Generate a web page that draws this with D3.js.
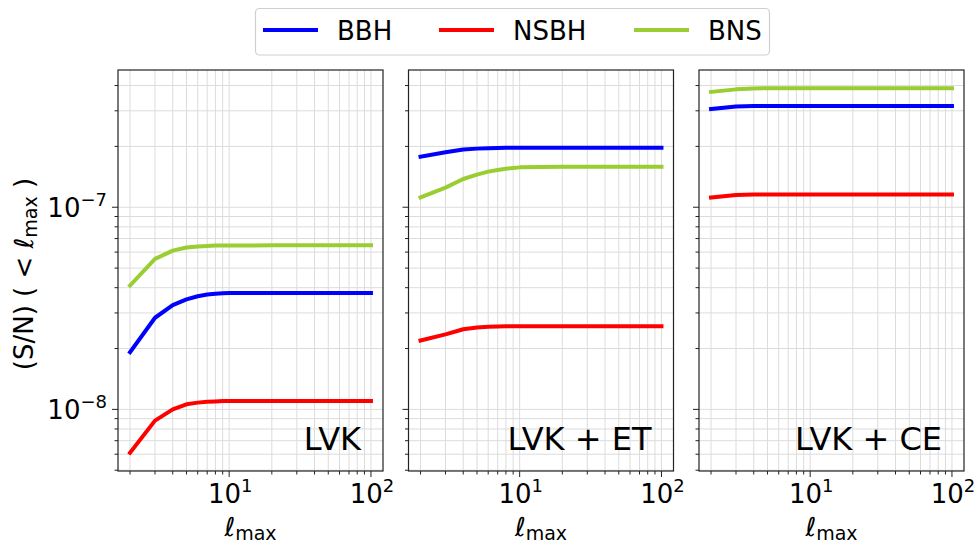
<!DOCTYPE html>
<html>
<head>
<meta charset="utf-8">
<script src="https://cdn.jsdelivr.net/npm/d3@7"></script>
<style>
  html, body { margin: 0; padding: 0; background: #fff; }
  svg { display: block; font-family: "DejaVu Sans", sans-serif; }
</style>
</head>
<body>
<svg id="chart" width="979" height="546"></svg>
<script>
// Multipole cutoff values at which the cumulative S/N was evaluated
const ell = [2, 3, 4, 5, 6, 7, 8, 9, 10, 20, 50, 100];

const populations = ["BBH", "NSBH", "BNS"];
const popColors = ["#0000ff", "#ff0000", "#9acd32"];
const detectors = ["LVK", "LVK + ET", "LVK + CE"];

// Cumulative S/N (< ell_max) for each network and population
const lvkBBH  = [1.92e-8, 2.84e-8, 3.28e-8, 3.50e-8, 3.63e-8, 3.70e-8, 3.73e-8, 3.75e-8, 3.76e-8, 3.77e-8, 3.77e-8, 3.77e-8];
const lvkNSBH = [6.1e-9, 8.8e-9, 1.00e-8, 1.06e-8, 1.08e-8, 1.09e-8, 1.095e-8, 1.10e-8, 1.10e-8, 1.10e-8, 1.10e-8, 1.10e-8];
const lvkBNS  = [4.10e-8, 5.55e-8, 6.10e-8, 6.32e-8, 6.40e-8, 6.44e-8, 6.46e-8, 6.47e-8, 6.47e-8, 6.48e-8, 6.48e-8, 6.48e-8];

const etBBH   = [1.78e-7, 1.87e-7, 1.93e-7, 1.95e-7, 1.96e-7, 1.965e-7, 1.97e-7, 1.97e-7, 1.97e-7, 1.97e-7, 1.97e-7, 1.97e-7];
const etNSBH  = [2.19e-8, 2.35e-8, 2.49e-8, 2.54e-8, 2.56e-8, 2.57e-8, 2.575e-8, 2.58e-8, 2.58e-8, 2.58e-8, 2.58e-8, 2.58e-8];
const etBNS   = [1.12e-7, 1.25e-7, 1.38e-7, 1.45e-7, 1.50e-7, 1.53e-7, 1.55e-7, 1.565e-7, 1.575e-7, 1.585e-7, 1.585e-7, 1.585e-7];

const ceBBH   = [3.06e-7, 3.15e-7, 3.17e-7, 3.17e-7, 3.17e-7, 3.17e-7, 3.17e-7, 3.17e-7, 3.17e-7, 3.17e-7, 3.17e-7, 3.17e-7];
const ceNSBH  = [1.117e-7, 1.15e-7, 1.155e-7, 1.156e-7, 1.156e-7, 1.156e-7, 1.156e-7, 1.156e-7, 1.156e-7, 1.156e-7, 1.156e-7, 1.156e-7];
const ceBNS   = [3.72e-7, 3.83e-7, 3.87e-7, 3.88e-7, 3.88e-7, 3.88e-7, 3.88e-7, 3.88e-7, 3.88e-7, 3.88e-7, 3.88e-7, 3.88e-7];

const panelSeries = [
  [lvkBBH, lvkNSBH, lvkBNS],
  [etBBH, etNSBH, etBNS],
  [ceBBH, ceNSBH, ceBNS]
];

const xMajor = [10, 100];
const yMajorLabels = [{ v: 1e-7, exp: "−7" }, { v: 1e-8, exp: "−8" }];

// ---------- layout ----------
const svg = d3.select("#chart");
const panelLeft = [118, 408.5, 699];
const panelW = 265;
const plotTop = 70, plotBottom = 471;
const axisColor = "#222";
const gridColor = "#dcdcdc";

// log extent with 5% margins in log space
function logExtent(values) {
  const lo = Math.log10(d3.min(values)), hi = Math.log10(d3.max(values));
  const m = (hi - lo) * 0.05;
  return [Math.pow(10, lo - m), Math.pow(10, hi + m)];
}
const allY = panelSeries.flat(2);
const y = d3.scaleLog().domain(logExtent(allY)).range([plotBottom, plotTop]);
const xDomain = logExtent(ell);

// all 1..9 x 10^k ticks inside a log domain
function logTicks(domain) {
  const out = [];
  const k0 = Math.floor(Math.log10(domain[0])) - 1, k1 = Math.ceil(Math.log10(domain[1]));
  for (let k = k0; k <= k1; k++) {
    for (let m = 1; m <= 9; m++) {
      const v = m * Math.pow(10, k);
      if (v >= domain[0] * 0.9999 && v <= domain[1] * 1.0001) out.push({ v, major: m === 1 });
    }
  }
  return out;
}
const yTicks = logTicks(y.domain());
const xTicks = logTicks(xDomain);

const line = d3.line().curve(d3.curveLinear);

detectors.forEach((name, p) => {
  const x0 = panelLeft[p];
  const x = d3.scaleLog().domain(xDomain).range([x0, x0 + panelW]);
  const g = svg.append("g");

  // grid
  g.append("g").selectAll("line").data(xTicks).join("line")
    .attr("x1", d => x(d.v)).attr("x2", d => x(d.v))
    .attr("y1", plotTop).attr("y2", plotBottom)
    .attr("stroke", gridColor).attr("stroke-width", 1);
  g.append("g").selectAll("line").data(yTicks).join("line")
    .attr("x1", x0).attr("x2", x0 + panelW)
    .attr("y1", d => y(d.v)).attr("y2", d => y(d.v))
    .attr("stroke", gridColor).attr("stroke-width", 1);

  // series
  panelSeries[p].forEach((vals, i) => {
    g.append("path")
      .attr("d", line(ell.map((l, j) => [x(l), y(vals[j])])))
      .attr("fill", "none")
      .attr("stroke", popColors[i])
      .attr("stroke-width", 4)
      .attr("stroke-linejoin", "round")
      .attr("stroke-linecap", "square");
  });

  // tick marks
  g.append("g").selectAll("line").data(yTicks).join("line")
    .attr("x1", x0).attr("x2", d => x0 - (d.major ? 6 : 3.5))
    .attr("y1", d => y(d.v)).attr("y2", d => y(d.v))
    .attr("stroke", axisColor).attr("stroke-width", 1);
  g.append("g").selectAll("line").data(xTicks).join("line")
    .attr("x1", d => x(d.v)).attr("x2", d => x(d.v))
    .attr("y1", plotBottom).attr("y2", d => plotBottom + (d.major ? 6 : 3.5))
    .attr("stroke", axisColor).attr("stroke-width", 1);

  // frame
  g.append("rect")
    .attr("x", x0).attr("y", plotTop).attr("width", panelW).attr("height", plotBottom - plotTop)
    .attr("fill", "none").attr("stroke", axisColor).attr("stroke-width", 1.2);

  // x tick labels
  xMajor.forEach(v => {
    const t = g.append("text")
      .attr("x", x(v) + 1).attr("y", 503)
      .attr("text-anchor", "middle")
      .attr("font-size", 26).attr("fill", "#000");
    t.append("tspan").text("10");
    t.append("tspan").attr("font-size", 18).attr("dy", -11).text(String(Math.round(Math.log10(v))));
  });

  // x axis label
  const xl = g.append("text")
    .attr("x", x0 + panelW / 2).attr("y", 536)
    .attr("text-anchor", "middle").attr("font-size", 26).attr("fill", "#000");
  xl.append("tspan").attr("font-style", "italic").text("ℓ");
  xl.append("tspan").attr("font-size", 19).attr("dy", 4).text("max");

  // network name
  g.append("text")
    .attr("x", x0 + panelW - 22).attr("y", plotBottom - 21)
    .attr("text-anchor", "end").attr("font-size", 32).attr("fill", "#000")
    .text(name);

  // y tick labels on the first panel only
  if (p === 0) {
    yMajorLabels.forEach(d => {
      const t = g.append("text")
        .attr("x", x0 - 11).attr("y", y(d.v) + 10)
        .attr("text-anchor", "end").attr("font-size", 26).attr("fill", "#000");
      t.append("tspan").text("10");
      t.append("tspan").attr("font-size", 18).attr("dy", -11).text(d.exp);
    });
  }
});

// y axis label
const yl = svg.append("text")
  .attr("transform", `translate(33, 274) rotate(-90)`)
  .attr("text-anchor", "middle").attr("font-size", 26).attr("fill", "#000");
yl.append("tspan").text("(S/N) ( < ");
yl.append("tspan").attr("font-style", "italic").text("ℓ");
yl.append("tspan").attr("font-size", 19).attr("dy", 4).text("max");
yl.append("tspan").attr("dy", -4).text(" )");

// legend
const legend = svg.append("g");
legend.append("rect")
  .attr("x", 255.5).attr("y", 8.5).attr("width", 514).attr("height", 46.5)
  .attr("rx", 4).attr("fill", "#fff").attr("fill-opacity", 0.8)
  .attr("stroke", "#cfcfcf").attr("stroke-width", 1.2);
const legendX = [263, 439, 634];
populations.forEach((name, i) => {
  legend.append("line")
    .attr("x1", legendX[i]).attr("x2", legendX[i] + 55)
    .attr("y1", 30).attr("y2", 30)
    .attr("stroke", popColors[i]).attr("stroke-width", 4);
  legend.append("text")
    .attr("x", legendX[i] + 74).attr("y", 40)
    .attr("font-size", 26).attr("fill", "#000")
    .text(name);
});
</script>
</body>
</html>
